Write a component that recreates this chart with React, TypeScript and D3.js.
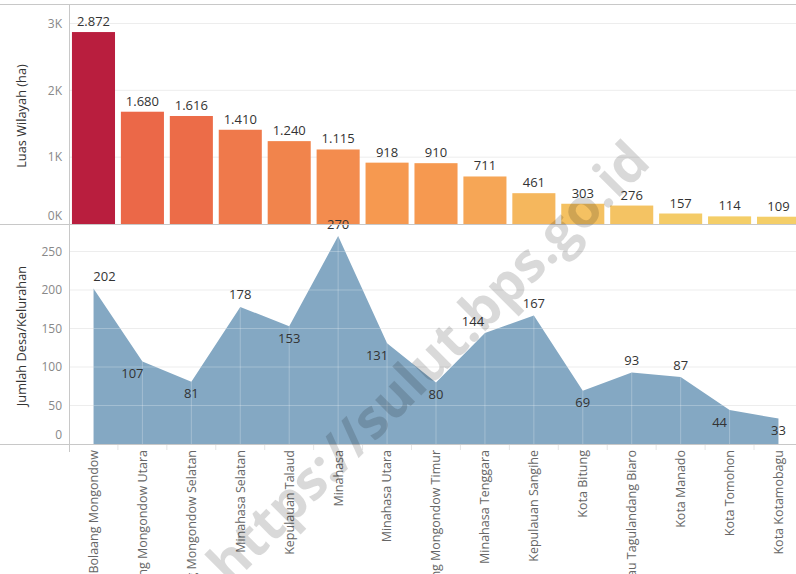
import React from 'react';
import * as d3 from 'd3';

const regions = [
  'Bolaang Mongondow',
  'Bolaang Mongondow Utara',
  'Bolaang Mongondow Selatan',
  'Minahasa Selatan',
  'Kepulauan Talaud',
  'Minahasa',
  'Minahasa Utara',
  'Bolaang Mongondow Timur',
  'Minahasa Tenggara',
  'Kepulauan Sangihe',
  'Kota Bitung',
  'Kepulauan Siau Tagulandang Biaro',
  'Kota Manado',
  'Kota Tomohon',
  'Kota Kotamobagu',
];
const luasWilayah = [2872, 1680, 1616, 1410, 1240, 1115, 918, 910, 711, 461, 303, 276, 157, 114, 109];
const jumlahDesa = [202, 107, 81, 178, 153, 270, 131, 80, 144, 167, 69, 93, 87, 44, 33];
const luasTicks = [0, 1000, 2000, 3000];
const desaTicks = [0, 50, 100, 150, 200, 250];

const W = 796;
const H = 574;
const FONT = '"Open Sans", "Noto Sans", sans-serif';

const id = d3.formatLocale({ decimal: ',', thousands: '.', grouping: [3], currency: ['', ''] });
const fmt = id.format(',d');

export default function App() {
  const left = 70;
  const topY0 = 4, topY1 = 224, botY1 = 444;

  const x = d3.scaleBand<string>()
    .domain(regions)
    .range([left, left + 15 * 48.8])
    .paddingInner(0.12)
    .paddingOuter(0.04);
  const cx = (i: number) => (x(regions[i]) as number) + x.bandwidth() / 2;

  const yTop = d3.scaleLinear().domain([0, 3000]).range([topY1, 23.5]);
  const yBot = d3.scaleLinear().domain([0, 280]).range([botY1, 228.4]);

  const color = d3.scaleLinear<string>()
    .domain([109, 900, 1650, 2872])
    .range(['#F4CE68', '#F69A50', '#EC6A48', '#B91E3E'])
    .interpolate(d3.interpolateRgb);

  const pts = jumlahDesa.map((v, i) => ({ v, i }));
  const area = d3.area<{ v: number; i: number }>()
    .x(d => cx(d.i))
    .y0(botY1)
    .y1(d => yBot(d.v));
  const areaPath = area(pts) as string;

  // label placement: above local peaks, below in the valleys
  const labelPos = jumlahDesa.map((v, i) => {
    const prev = i > 0 ? jumlahDesa[i - 1] : undefined;
    const next = i < jumlahDesa.length - 1 ? jumlahDesa[i + 1] : undefined;
    const nb = [prev, next].filter(n => n !== undefined) as number[];
    const avg = d3.mean(nb) as number;
    const above = v >= avg;
    let dx = 0;
    if (above) {
      if (prev === undefined) dx = 11;
      else if (next !== undefined && prev < v && v < next) dx = -12;
    } else if (prev !== undefined && prev - v > 40 && (next === undefined || next < v)) {
      dx = -10;
    }
    return { dx, dy: above ? -12 : 12 };
  });

  return (
    <div style={{ position: 'absolute', left: 0, top: 0 }}>
      <svg width={W} height={H} style={{ display: 'block', fontFamily: FONT }}>
        <defs>
          <clipPath id="areaClip">
            <path d={areaPath} />
          </clipPath>
        </defs>
        <rect width={W} height={H} fill="#fff" />

        {/* grid */}
        {luasTicks.filter(t => t > 0).map(t => (
          <line key={'gt' + t} x1={left} x2={W} y1={yTop(t)} y2={yTop(t)} stroke="#ededed" />
        ))}
        {desaTicks.filter(t => t > 0).map(t => (
          <line key={'gb' + t} x1={left} x2={W} y1={yBot(t)} y2={yBot(t)} stroke="#ededed" />
        ))}

        {/* bars */}
        {luasWilayah.map((v, i) => (
          <rect key={'b' + i} x={x(regions[i])} y={yTop(v)} width={x.bandwidth()}
            height={topY1 - yTop(v)} fill={color(v)} />
        ))}
        {luasWilayah.map((v, i) => (
          <text key={'bl' + i} x={cx(i)} y={yTop(v) - 6} textAnchor="middle"
            fontSize={13} fill="#333">{fmt(v)}</text>
        ))}

        {/* area */}
        <path d={areaPath} fill="#84A8C3" />
        <g clipPath="url(#areaClip)">
          {desaTicks.filter(t => t > 0).map(t => (
            <line key={'ga' + t} x1={left} x2={W} y1={yBot(t)} y2={yBot(t)}
              stroke="#fff" strokeOpacity={0.25} />
          ))}
          {regions.map((r, i) => (
            <line key={'gv' + i} x1={cx(i)} x2={cx(i)} y1={topY1} y2={botY1}
              stroke="#fff" strokeOpacity={0.25} />
          ))}
        </g>
        {jumlahDesa.map((v, i) => (
          <text key={'al' + i} x={cx(i) + labelPos[i].dx} y={yBot(v) + labelPos[i].dy}
            dy="0.35em" textAnchor="middle" fontSize={13} fill="#333">{v}</text>
        ))}

        {/* frame lines */}
        <line x1={0} x2={W} y1={topY0 + 0.5} y2={topY0 + 0.5} stroke="#c8c8c8" />
        <line x1={0} x2={W} y1={topY1 + 0.5} y2={topY1 + 0.5} stroke="#c8c8c8" />
        <line x1={0} x2={W} y1={botY1 + 0.5} y2={botY1 + 0.5} stroke="#c8c8c8" />
        <line x1={left - 0.5} x2={left - 0.5} y1={topY0} y2={452} stroke="#c8c8c8" />
        {regions.map((r, i) => (
          <line key={'xt' + i} x1={(x(r) as number) + x.bandwidth() + 2.9}
            x2={(x(r) as number) + x.bandwidth() + 2.9} y1={botY1 + 1} y2={botY1 + 6} stroke="#e6e6e6" />
        ))}

        {/* y axis tick labels */}
        {luasTicks.map(t => (
          <text key={'yt' + t} x={62} y={t === 0 ? topY1 - 8 : yTop(t)} dy="0.35em"
            textAnchor="end" fontSize={12} fill="#888">{t / 1000 + 'K'}</text>
        ))}
        {desaTicks.map(t => (
          <text key={'yb' + t} x={62} y={t === 0 ? botY1 - 9 : yBot(t)} dy="0.35em"
            textAnchor="end" fontSize={12} fill="#888">{t}</text>
        ))}

        {/* axis titles */}
        <text transform={`translate(22,${(topY0 + topY1) / 2 + 2}) rotate(-90)`} textAnchor="middle"
          dy="0.35em" fontSize={12.8} fill="#333">Luas Wilayah (ha)</text>
        <text transform={`translate(22,${(topY1 + botY1) / 2 + 2}) rotate(-90)`} textAnchor="middle"
          dy="0.35em" fontSize={12.8} fill="#333">Jumlah Desa/Kelurahan</text>

        {/* x labels */}
        {regions.map((r, i) => (
          <text key={'xl' + i} transform={`translate(${cx(i)},450) rotate(-90)`} textAnchor="end"
            dy="0.35em" fontSize={12.5} fill="#666">{r}</text>
        ))}

        {/* watermark */}
        <text transform="translate(428,362) rotate(-45)" textAnchor="middle" dy="0.35em"
          fontSize={54} fontWeight="bold" fill="#000" fillOpacity={0.15}>https://sulut.bps.go.id</text>
      </svg>
    </div>
  );
}
